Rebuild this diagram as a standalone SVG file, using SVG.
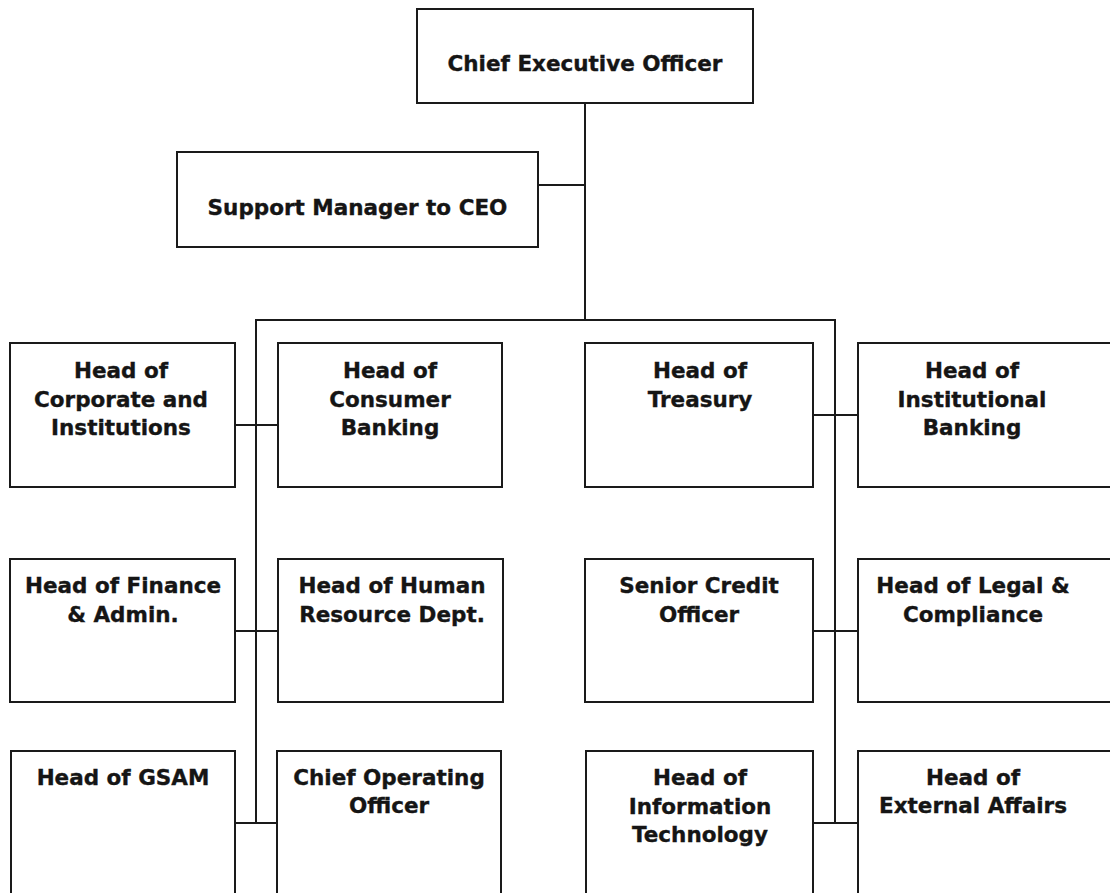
<svg xmlns="http://www.w3.org/2000/svg" width="1110" height="893" viewBox="0 0 1110 893">
<style>
.box{fill:#fff;stroke:#1a1a1a;stroke-width:2}
.lbl{font-family:"DejaVu Sans","Liberation Sans",sans-serif;font-weight:bold;font-size:21.5px;fill:#151515;stroke:#151515;stroke-width:0.35;text-anchor:middle}
.con{stroke:#1a1a1a;stroke-width:2;fill:none}
</style>
<rect width="1110" height="893" fill="#fff"/>
<g id="connectors">
<line class="con" x1="585" y1="103" x2="585" y2="320"/>
<line class="con" x1="538" y1="185" x2="585" y2="185"/>
<line class="con" x1="255" y1="320" x2="836" y2="320"/>
<line class="con" x1="256" y1="320" x2="256" y2="823"/>
<line class="con" x1="835" y1="320" x2="835" y2="823"/>
<line class="con" x1="235" y1="425" x2="278" y2="425"/>
<line class="con" x1="813" y1="415" x2="858" y2="415"/>
<line class="con" x1="235" y1="631" x2="278" y2="631"/>
<line class="con" x1="813" y1="631" x2="858" y2="631"/>
<line class="con" x1="235" y1="823" x2="278" y2="823"/>
<line class="con" x1="813" y1="823" x2="858" y2="823"/>
</g>
<g id="ceo"><rect class="box" x="417" y="9" width="336" height="94"/><text class="lbl" x="585" y="71">Chief Executive Officer</text></g>
<g id="support"><rect class="box" x="177" y="152" width="361" height="95"/><text class="lbl" x="357.5" y="215">Support Manager to CEO</text></g>
<g id="corporate"><rect class="box" x="10" y="343" width="225" height="144"/><text class="lbl" x="121" y="378">Head of</text><text class="lbl" x="121" y="407">Corporate and</text><text class="lbl" x="121" y="435">Institutions</text></g>
<g id="consumer"><rect class="box" x="278" y="343" width="224" height="144"/><text class="lbl" x="390" y="378">Head of</text><text class="lbl" x="390" y="407">Consumer</text><text class="lbl" x="390" y="435">Banking</text></g>
<g id="treasury"><rect class="box" x="585" y="343" width="228" height="144"/><text class="lbl" x="700" y="378">Head of</text><text class="lbl" x="700" y="407">Treasury</text></g>
<g id="institutional"><rect class="box" x="858" y="343" width="270" height="144"/><text class="lbl" x="972" y="378">Head of</text><text class="lbl" x="972" y="407">Institutional</text><text class="lbl" x="972" y="435">Banking</text></g>
<g id="finance"><rect class="box" x="10" y="559" width="225" height="143"/><text class="lbl" x="123" y="593">Head of Finance</text><text class="lbl" x="123" y="622">&amp; Admin.</text></g>
<g id="hr"><rect class="box" x="278" y="559" width="225" height="143"/><text class="lbl" x="392" y="593">Head of Human</text><text class="lbl" x="392" y="622">Resource Dept.</text></g>
<g id="credit"><rect class="box" x="585" y="559" width="228" height="143"/><text class="lbl" x="699" y="593">Senior Credit</text><text class="lbl" x="699" y="622">Officer</text></g>
<g id="legal"><rect class="box" x="858" y="559" width="270" height="143"/><text class="lbl" x="973" y="593">Head of Legal &amp;</text><text class="lbl" x="973" y="622">Compliance</text></g>
<g id="gsam"><rect class="box" x="11" y="751" width="224" height="160"/><text class="lbl" x="123" y="785">Head of GSAM</text></g>
<g id="coo"><rect class="box" x="277" y="751" width="224" height="160"/><text class="lbl" x="389" y="785">Chief Operating</text><text class="lbl" x="389" y="813">Officer</text></g>
<g id="it"><rect class="box" x="586" y="751" width="227" height="160"/><text class="lbl" x="700" y="785">Head of</text><text class="lbl" x="700" y="814">Information</text><text class="lbl" x="700" y="842">Technology</text></g>
<g id="external"><rect class="box" x="858" y="751" width="270" height="160"/><text class="lbl" x="973" y="785">Head of</text><text class="lbl" x="973" y="813">External Affairs</text></g>
</svg>
